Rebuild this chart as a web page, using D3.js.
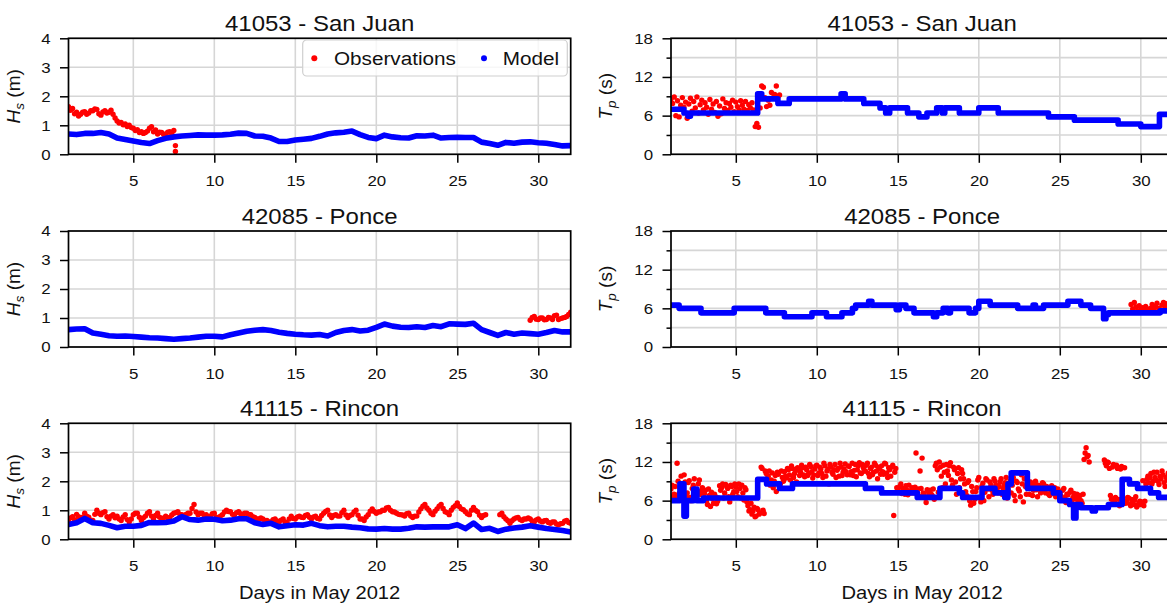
<!DOCTYPE html>
<html lang="en">
<head>
    <meta charset="UTF-8">
    <title>Wave buoys vs model - May 2012</title>
    <script src="https://d3js.org/d3.v7.min.js"></script>
    <style>
        body { margin: 0; background: #fff; }
        svg { display: block; font-family: "Liberation Sans", Arial, sans-serif; }
        .grid line { stroke: #d6d6d6; stroke-width: 1.6px; }
        .axis path { display: none; }
        .axis line { stroke: #000; stroke-width: 1.5px; }
        .axis text { font-family: "Liberation Sans", Arial, sans-serif; font-size: 15.5px; fill: #111; }
        .frame { fill: none; stroke: #000; stroke-width: 1.7px; }
    </style>
</head>
<body>
<svg id="chart" width="1167" height="609"></svg>
<script>
    // ---- axes / labels ----
    const xDomain = [1, 32];
    const dayTicks = [5, 10, 15, 20, 25, 30];
    const hsTicks = [0, 1, 2, 3, 4];
    const tpTicks = [0, 6, 12, 18];
    const tpMinorTicks = [3, 9, 15];
    const stations = ["41053 - San Juan", "42085 - Ponce", "41115 - Rincon"];

    // ---- model Hs (m), every 0.5 day from day 1 ----
    const hsModelStep = 0.5;
    const sjHsModel = [0.70, 0.68, 0.72, 0.72, 0.75, 0.70, 0.56, 0.51, 0.46, 0.41,
        0.37, 0.47, 0.55, 0.60, 0.63, 0.65, 0.67, 0.66, 0.66, 0.67,
        0.69, 0.73, 0.72, 0.63, 0.62, 0.56, 0.44, 0.44, 0.49, 0.52,
        0.55, 0.62, 0.70, 0.74, 0.76, 0.80, 0.68, 0.58, 0.54, 0.66,
        0.60, 0.57, 0.56, 0.64, 0.63, 0.66, 0.56, 0.58, 0.59, 0.58,
        0.58, 0.42, 0.37, 0.31, 0.41, 0.38, 0.42, 0.43, 0.40, 0.38,
        0.34, 0.29, 0.30];
    const poHsModel = [0.60, 0.62, 0.63, 0.48, 0.44, 0.39, 0.37, 0.38, 0.36, 0.34,
        0.32, 0.31, 0.29, 0.27, 0.29, 0.31, 0.34, 0.37, 0.37, 0.35,
        0.42, 0.48, 0.54, 0.58, 0.60, 0.57, 0.51, 0.47, 0.44, 0.42,
        0.41, 0.43, 0.38, 0.50, 0.57, 0.60, 0.55, 0.58, 0.68, 0.79,
        0.72, 0.68, 0.67, 0.70, 0.67, 0.74, 0.70, 0.80, 0.79, 0.78,
        0.82, 0.60, 0.50, 0.40, 0.50, 0.44, 0.48, 0.46, 0.44, 0.50,
        0.57, 0.52, 0.52];
    const riHsModel = [0.51, 0.57, 0.72, 0.57, 0.55, 0.48, 0.40, 0.45, 0.45, 0.48,
        0.58, 0.57, 0.58, 0.63, 0.78, 0.68, 0.66, 0.70, 0.69, 0.64,
        0.66, 0.71, 0.71, 0.57, 0.51, 0.55, 0.43, 0.47, 0.50, 0.49,
        0.55, 0.47, 0.43, 0.45, 0.45, 0.42, 0.40, 0.36, 0.35, 0.37,
        0.35, 0.35, 0.38, 0.43, 0.42, 0.43, 0.43, 0.43, 0.50, 0.37,
        0.56, 0.34, 0.38, 0.27, 0.35, 0.39, 0.42, 0.47, 0.42, 0.37,
        0.34, 0.30, 0.25];

    // ---- observed Hs (m), every 0.125 day ----
    const hsObsStep = 0.125;
    const sjHsObsStart = 1;
    const sjHsObs = [
        1.64, 1.52, 1.58, 1.40, 1.45, 1.32, 1.38, 1.45,
        1.47, 1.38, 1.42, 1.50, 1.50, 1.56, 1.55, 1.40,
        1.35, 1.46, 1.50, 1.42, 1.45, 1.52, 1.38, 1.25,
        1.15, 1.08, 1.10, 1.02, 1.05, 0.96, 1.00, 0.92,
        0.90, 0.82, 0.85, 0.75, 0.78, 0.72, 0.75, 0.80,
        0.90, 0.95, 0.78, 0.84, 0.70, 0.76, 0.75, 0.68,
        0.70, 0.76, 0.78, 0.72, 0.82];
    const sjHsObsExtraDays = [7.6, 7.6];
    const sjHsObsExtra = [0.30, 0.10];
    const poHsObsStart = 29.5;
    const poHsObs = [0.92, 1.02, 1.05, 0.96, 0.95, 1.00, 1.00, 0.94, 0.95, 1.02, 1.00,
        0.95, 1.08, 1.10, 0.95, 0.98, 1.00, 1.02, 1.05, 1.12, 1.20];
    const riHsObsStart = 1;
    const riHsObs = [
        0.65, 0.74, 0.78, 0.68, 0.86, 0.78, 0.70, 0.76,
        0.90, 0.80, 0.76, 0.66, 0.65, 0.86, 1.00, 0.90,
        0.85, 0.92, 0.95, 0.78, 0.70, 0.80, 0.85, 0.74,
        0.80, 0.70, 0.65, 0.77, 0.85, 0.68, 0.60, 0.70,
        0.85, 0.90, 0.90, 0.76, 0.65, 0.74, 0.80, 0.90,
        0.95, 0.80, 0.70, 0.82, 0.90, 0.76, 0.65, 0.74,
        0.80, 0.74, 0.75, 0.84, 0.90, 0.92, 0.95, 0.86,
        0.85, 0.80, 0.86, 0.90, 0.90, 1.06, 1.20, 0.94,
        0.85, 0.90, 0.90, 0.82, 0.85, 0.78, 0.80, 0.88,
        0.90, 0.76, 0.70, 0.80, 0.85, 0.94, 1.00, 0.96,
        0.95, 0.86, 0.85, 0.92, 0.95, 0.88, 0.85, 0.90,
        0.90, 0.86, 0.85, 0.78, 0.75, 0.70, 0.70, 0.74,
        0.70, 0.64, 0.65, 0.60, 0.60, 0.68, 0.70, 0.63,
        0.60, 0.66, 0.70, 0.60, 0.55, 0.70, 0.80, 0.72,
        0.70, 0.77, 0.80, 0.76, 0.75, 0.82, 0.85, 0.76,
        0.70, 0.77, 0.80, 0.72, 0.70, 0.82, 0.90, 0.96,
        1.00, 0.84, 0.75, 0.82, 0.85, 0.80, 0.80, 0.92,
        1.00, 0.84, 0.75, 0.82, 0.85, 0.94, 1.00, 0.83,
        0.70, 0.70, 0.65, 0.77, 0.85, 0.97, 1.05, 0.96,
        0.90, 0.94, 0.95, 1.00, 1.00, 1.08, 1.10, 1.00,
        0.95, 0.94, 0.90, 0.86, 0.85, 0.84, 0.80, 0.88,
        0.90, 0.80, 0.75, 0.80, 0.80, 0.94, 1.05, 1.14,
        1.20, 1.08, 1.00, 0.90, 0.85, 0.97, 1.05, 1.14,
        1.20, 1.06, 0.95, 0.92, 0.85, 1.00, 1.10, 1.16,
        1.25, 1.13, 1.05, 1.02, 0.95, 0.88, 0.85, 1.00,
        1.10, 1.00, 0.95, 0.83, 0.75, 0.82, 0.85, null,
        null, null, null, null, null, 0.85, 0.90, 0.78,
        0.70, 0.64, 0.55, 0.64, 0.70, 0.74, 0.75, 0.68,
        0.65, 0.70, 0.70, 0.74, 0.70, 0.63, 0.60, 0.67,
        0.70, 0.63, 0.60, 0.64, 0.65, 0.58, 0.55, 0.60,
        0.60, 0.53, 0.50, 0.54, 0.55, 0.62, 0.65, 0.58,
        0.55];

    // ---- model Tp (s), stepwise: start day of each level ----
    const sjTpModelDays = [1, 1.8, 2.05, 2.2, 6.35, 6.6, 7.6, 8.3, 11.5, 11.75, 12.9, 13.9, 14.25, 14.5,
        15.6, 16.3, 16.8, 17.4, 17.75, 17.9, 18.8, 20, 21.2, 24.3, 25.9, 28.6, 30, 31.15];
    const sjTpModel = [7.0, 6.4, 5.9, 6.4, 9.4, 8.6, 7.9, 8.6, 9.4, 8.6, 7.9, 7.2, 6.4, 7.2,
        6.4, 5.8, 6.4, 7.2, 6.4, 7.2, 6.4, 7.2, 6.4, 5.8, 5.3, 4.7, 4.3, 6.2];
    const poTpModelDays = [1, 1.5, 2.85, 4.9, 6.85, 8, 9.7, 10.6, 11.55, 12.2, 12.4, 13.2, 13.4, 14.9,
        15.1, 15.5, 16, 17.2, 17.4, 17.8, 18.1, 18.25, 19.4, 19.8, 20, 20.7, 22.4, 23.35, 23.5, 24,
        25.5, 26.3, 26.9, 27.7, 27.85, 28, 31.2];
    const poTpModel = [6.5, 6.0, 5.3, 6.0, 5.3, 4.7, 5.3, 4.7, 5.3, 6.0, 6.5, 7.1, 6.5, 5.8,
        6.5, 6.0, 5.3, 4.7, 5.3, 6.0, 5.3, 6.0, 5.3, 6.0, 7.1, 6.5, 6.0, 6.5, 6.0, 6.5,
        7.1, 6.5, 6.0, 4.4, 5.0, 5.3, 5.6];
    const riTpModelDays = [1, 1.55, 1.8, 1.95, 2.4, 2.6, 3.0, 6.35, 6.9, 7.7, 8.5, 13.0, 14.0, 16.2,
        17.6, 18.8, 19.0, 20.2, 21.0, 21.6, 21.8, 22.0, 23.0, 24.6, 25.0, 25.6, 25.85, 26.0, 26.3,
        27.0, 27.2, 28.0, 28.85, 29.3, 29.8, 30.6, 31.1];
    const riTpModel = [6.0, 8.6, 3.6, 6.0, 7.8, 6.0, 6.4, 9.3, 8.6, 7.9, 8.6, 7.9, 7.2, 6.5,
        7.9, 7.2, 6.5, 7.9, 7.2, 6.5, 8.6, 10.3, 7.9, 7.2, 6.0, 5.4, 3.3, 5.4, 4.9,
        4.4, 4.9, 5.4, 9.3, 8.6, 7.9, 7.2, 6.5];

    // ---- observed Tp (s) ----
    const sjTpObsStart = 1, sjTpObsStep = 0.1;
    const sjTpObs = [
        8.6, 7.9, 8.9, 6.0, 8.3, 5.8, 7.6, 8.8, 7.3, 8.1,
        5.6, 7.8, 8.7, 6.7, 8.2, 7.2, 8.9, 6.4, 7.7, 8.4,
        6.9, 8.0, 7.3, 6.2, 8.5, 7.0, 7.8, 6.5, 8.2, 5.9,
        7.5, 6.3, 8.6, 7.1, 8.0, 6.8, 7.9, 7.3, 8.4, 6.6,
        8.1, 7.4, 6.9, 8.3, 7.6, 7.0, 8.2, 6.8, 7.7, 7.2,
        8.0, 6.9, 4.3, 4.8, 4.2, 7.2, 10.6, 10.4, 8.8, 7.4,
        8.4, 7.6, 9.6, 8.8, 9.3, 10.6, 8.9, 9.2];
    const poTpObsStart = 29.4, poTpObsStep = 0.1;
    const poTpObs = [6.6, 5.9, 6.9, 6.2, 5.6, 6.4, 5.8, 6.1, 5.5, 6.3, 5.9, 5.4, 6.0, 6.6,
        5.7, 6.3, 6.8, 6.0, 5.8, 6.5, 6.9, 6.2, 6.7, 6.0, 6.6, 7.0, 6.4];
    // Rincon Tp comes in two interleaved sets (on the hour and half past)
    const riTpObsStep = 0.125;
    const riTpObsStart = 1;
    const riTpObs = [
        7.8, 6.6, 8.2, 11.8, 7.1, 9.8, 6.3, 8.9,
        7.2, 9.1, 6.0, 8.4, 7.7, 6.9, 9.2, 7.5,
        6.2, 7.6, 5.4, 6.8, 7.3, 5.6, 6.6, 5.9,
        8.3, 8.0, 6.4, 8.5, 7.9, 5.8, 8.2, 7.4,
        8.1, 6.6, 7.9, 8.4, 6.1, 7.7, 5.2, 4.6,
        3.9, 5.0, 3.6, 4.6, 4.1, 11.0, 4.0, 10.2,
        9.8, 8.4, 10.3, 9.0, 7.4, 10.1, 8.6, 9.6,
        10.5, 9.5, 10.8, 9.2, 11.0, 10.2, 8.9, 10.9,
        10.4, 11.1, 9.7, 10.8, 10.2, 11.3, 9.5, 10.9,
        11.5, 10.3, 10.9, 9.6, 11.4, 10.6, 8.6, 11.2,
        10.1, 11.6, 10.7, 9.8, 11.2, 10.4, 11.7, 10.0,
        11.3, 10.5, 9.9, 11.6, 10.8, 11.9, 10.2, 11.1,
        10.6, 11.8, 9.7, 11.2, 10.4, 11.5, 9.4, 10.9,
        11.4, 10.1, 11.7, 9.6, 10.8, 11.2, 3.7, 11.0,
        7.8, 8.2, 7.1, 7.7, 8.3, 6.9, 7.5, 8.0,
        7.2, 13.4, 7.8, 10.6, 12.6, 7.0, 5.7, 7.4,
        7.6, 6.8, 6.2, 11.8, 7.3, 11.2, 8.0, 10.4,
        11.6, 9.9, 11.9, 8.4, 10.8, 7.0, 11.1, 9.4,
        10.2, 8.6, 6.8, 9.1, 5.3, 7.4, 6.2, 8.0,
        9.6, 5.8, 8.7, 7.3, 9.2, 6.6, 8.4, 7.0,
        9.0, 7.6, 8.2, 9.4, 7.9, 8.8, 6.4, 8.5,
        7.2, 9.6, 6.0, 8.8, 7.5, 10.0, 5.8, 8.2,
        9.2, 7.0, 8.4, 7.6, 9.0, 6.6, 8.1, 7.4,
        8.6, 7.2, 7.9, 6.8, 8.3, 7.5, 6.6, 7.8,
        7.4, 6.2, 7.9, 5.7, 6.9, 7.3, 6.0, 7.1,
        6.4, 5.9, 6.8, 5.6, 12.4, 14.2, 13.0, null,
        null, null, null, null, null, null, 12.3, 11.4,
        11.9, 6.8, 11.2, 5.8, 11.5, 6.2, 10.9, 5.5,
        11.1, 5.9, 6.4, 5.2, 5.8, 6.1, 5.0, 5.6,
        5.4, 9.1, 5.9, 9.3, 8.8, 10.2, 9.0, 9.6,
        10.4, 8.5, 9.4, 10.0, 8.2, 9.2, 9.8, 8.6,
        9.0];
    const riTpObsBStart = 1.0625;
    const riTpObsB = [
        8.4, 7.0, 6.8, 9.0, 8.0, 7.4, 10.0, 6.7,
        8.8, 6.5, 7.9, 9.4, 6.3, 8.6, 7.0, 8.0,
        7.1, 6.0, 7.8, 5.1, 6.3, 7.0, 5.5, 6.4,
        7.6, 8.6, 7.2, 8.2, 6.6, 8.4, 7.0, 8.6,
        7.4, 8.6, 6.4, 7.2, 8.0, 5.8, 4.4, 5.6,
        4.4, 3.5, 4.8, 3.9, 11.2, 4.5, 10.6, 9.4,
        10.6, 9.2, 8.0, 9.9, 10.4, 8.2, 10.6, 9.0,
        9.8, 11.0, 10.0, 11.4, 9.6, 10.6, 11.1, 9.9,
        11.5, 10.0, 11.2, 9.9, 11.6, 10.5, 10.0, 11.4,
        9.9, 11.2, 10.2, 11.8, 9.8, 10.9, 11.6, 10.4,
        10.8, 9.6, 11.0, 11.8, 9.9, 10.9, 10.5, 11.4,
        10.0, 11.8, 10.7, 9.7, 11.4, 10.3, 11.6, 10.6,
        11.5, 10.2, 11.0, 10.0, 11.8, 10.6, 11.2, 10.1,
        10.5, 11.8, 10.3, 11.1, 9.8, 11.5, 10.4, 8.0,
        7.4, 8.6, 7.9, 7.0, 7.6, 8.4, 7.2, 7.7,
        8.1, 7.5, 6.7, 7.9, 7.2, 6.4, 7.7, 6.9,
        7.0, 7.8, 11.4, 10.8, 12.0, 9.8, 11.5, 8.6,
        10.6, 11.4, 9.2, 11.2, 8.9, 10.2, 8.0, 10.8,
        9.4, 7.4, 8.8, 6.0, 8.2, 5.6, 7.4, 9.2,
        6.4, 8.2, 6.0, 9.4, 7.8, 8.9, 7.6, 9.4,
        8.4, 7.2, 8.9, 7.0, 8.4, 9.6, 7.6, 9.0,
        8.4, 6.8, 9.0, 7.8, 6.6, 8.6, 9.4, 7.0,
        8.0, 8.9, 6.8, 8.6, 7.7, 8.4, 7.2, 8.8,
        7.6, 8.2, 7.0, 7.6, 7.1, 8.0, 7.2, 6.8,
        6.8, 7.6, 6.5, 7.0, 6.0, 7.6, 6.5, 6.3,
        7.0, 6.2, 6.0, 7.0, 13.4, 12.8, 12.0, null,
        null, null, null, null, null, null, 11.8, 12.0,
        11.0, 6.2, 11.6, 6.5, 11.0, 5.2, 11.3, 6.0,
        5.6, 6.5, 5.5, 6.2, 5.4, 6.6, 5.3, 5.9,
        5.8, 5.2, 8.6, 9.8, 9.6, 8.6, 10.4, 9.2,
        9.0, 9.8, 10.6, 8.8, 9.6, 10.3, 8.9, 9.4];

    // ---- layout ----
    const colX = [68.5, 671];
    const rowY = [38.3, 231, 423.3];
    const pw = 502.2, ph = 116;
    const stretch = "scale(1.09,1)";
    const obsColor = "#ff0000", modelColor = "#0000ff";

    const svg = d3.select("#chart");
    const defs = svg.append("defs");

    const regular = (start, step, vals) => vals.map((v, i) => [start + i * step, v]).filter(d => d[1] != null);
    const paired = (days, vals) => days.map((d, i) => [d, vals[i]]);
    const stepped = (days, vals) => paired(days, vals).concat([[xDomain[1], vals[vals.length - 1]]]);

    function drawPanel(p) {
        const g = svg.append("g").attr("transform", `translate(${colX[p.col]},${rowY[p.row]})`);
        const x = d3.scaleLinear().domain(xDomain).range([0, pw]);
        const y = d3.scaleLinear().domain([0, p.yMax]).range([ph, 0]);

        const grid = g.append("g").attr("class", "grid");
        grid.selectAll("line.gx").data(dayTicks).join("line").attr("class", "gx")
            .attr("x1", d => x(d)).attr("x2", d => x(d)).attr("y1", 0).attr("y2", ph);
        grid.selectAll("line.gy").data(p.yGrid).join("line").attr("class", "gy")
            .attr("x1", 0).attr("x2", pw).attr("y1", d => y(d)).attr("y2", d => y(d));

        const clipId = `clip-${p.row}-${p.col}`;
        defs.append("clipPath").attr("id", clipId)
            .append("rect").attr("width", pw).attr("height", ph);
        const plot = g.append("g").attr("clip-path", `url(#${clipId})`);

        plot.append("g").selectAll("circle").data(p.obs).join("circle")
            .attr("cx", d => x(d[0])).attr("cy", d => y(d[1])).attr("r", 2.7)
            .attr("fill", obsColor);

        const line = d3.line().x(d => x(d[0])).y(d => y(d[1]))
            .curve(p.step ? d3.curveStepAfter : d3.curveLinear);
        plot.append("path").datum(p.model).attr("d", line)
            .attr("fill", "none").attr("stroke", modelColor).attr("stroke-width", 5.6)
            .attr("stroke-linejoin", "round").attr("stroke-linecap", "round");

        g.append("rect").attr("class", "frame").attr("width", pw).attr("height", ph);

        const xAxis = g.append("g").attr("class", "axis").attr("transform", `translate(0,${ph})`)
            .call(d3.axisBottom(x).tickValues(dayTicks).tickSize(8.5).tickPadding(12).tickSizeOuter(0));
        xAxis.selectAll("text").attr("transform", stretch);

        const yAxis = g.append("g").attr("class", "axis")
            .call(d3.axisLeft(y).tickValues(p.yTicks).tickFormat(d3.format("d"))
                .tickSize(8.5).tickPadding(8).tickSizeOuter(0));
        yAxis.selectAll("text").attr("transform", stretch);
        if (p.yMinor) {
            g.append("g").attr("class", "axis")
                .call(d3.axisLeft(y).tickValues(p.yMinor).tickSize(4.5).tickFormat("").tickSizeOuter(0));
        }

        g.append("text").attr("transform", `translate(${pw / 2},-7.5) ${stretch}`)
            .attr("text-anchor", "middle").attr("font-size", 22).attr("fill", "#111")
            .text(stations[p.row]);

        const yl = g.append("text")
            .attr("transform", `translate(${p.yLabelX},${ph / 2}) rotate(-90)`)
            .attr("text-anchor", "middle").attr("font-size", 19).attr("fill", "#111");
        yl.append("tspan").attr("font-style", "italic").text(p.sym[0]);
        yl.append("tspan").attr("font-style", "italic").attr("font-size", 13.5).attr("dy", 4).text(p.sym[1]);
        yl.append("tspan").attr("dy", -4).text(` (${p.unit})`);

        if (p.row === 2) {
            g.append("text").attr("transform", `translate(${pw / 2},${ph + 60}) ${stretch}`)
                .attr("text-anchor", "middle").attr("font-size", 18.5).attr("fill", "#111")
                .text("Days in May 2012");
        }

        if (p.legend) {
            const lg = g.append("g");
            lg.append("rect").attr("x", 234.2).attr("y", 1.7).attr("width", 264.6).attr("height", 36)
                .attr("rx", 4).attr("fill", "#fff").attr("fill-opacity", 0.8)
                .attr("stroke", "#cfcfcf").attr("stroke-width", 1.2);
            const items = [["Observations", obsColor, 245.8, 265.5], ["Model", modelColor, 415.5, 434.2]];
            items.forEach(([label, color, cx, tx]) => {
                lg.append("circle").attr("cx", cx).attr("cy", 20).attr("r", 3).attr("fill", color);
                lg.append("text").attr("transform", `translate(${tx},26.8) ${stretch}`)
                    .attr("font-size", 19).attr("fill", "#111").text(label);
            });
        }
    }

    const hsRows = [
        { model: sjHsModel, obs: regular(sjHsObsStart, hsObsStep, sjHsObs).concat(paired(sjHsObsExtraDays, sjHsObsExtra)) },
        { model: poHsModel, obs: regular(poHsObsStart, hsObsStep, poHsObs) },
        { model: riHsModel, obs: regular(riHsObsStart, hsObsStep, riHsObs) }
    ];
    const tpRows = [
        { model: stepped(sjTpModelDays, sjTpModel), obs: regular(sjTpObsStart, sjTpObsStep, sjTpObs) },
        { model: stepped(poTpModelDays, poTpModel), obs: regular(poTpObsStart, poTpObsStep, poTpObs) },
        { model: stepped(riTpModelDays, riTpModel),
          obs: regular(riTpObsStart, riTpObsStep, riTpObs).concat(regular(riTpObsBStart, riTpObsStep, riTpObsB)) }
    ];

    hsRows.forEach((r, i) => drawPanel({
        row: i, col: 0, yMax: 4, yTicks: hsTicks, yGrid: hsTicks, yMinor: null,
        sym: ["H", "s"], unit: "m", yLabelX: 20 - colX[0],
        obs: r.obs, model: regular(1, hsModelStep, r.model), step: false, legend: i === 0
    }));
    tpRows.forEach((r, i) => drawPanel({
        row: i, col: 1, yMax: 18, yTicks: tpTicks, yGrid: tpTicks.concat(tpMinorTicks), yMinor: tpMinorTicks,
        sym: ["T", "p"], unit: "s", yLabelX: 612 - colX[1],
        obs: r.obs, model: r.model, step: true, legend: false
    }));
</script>
</body>
</html>
